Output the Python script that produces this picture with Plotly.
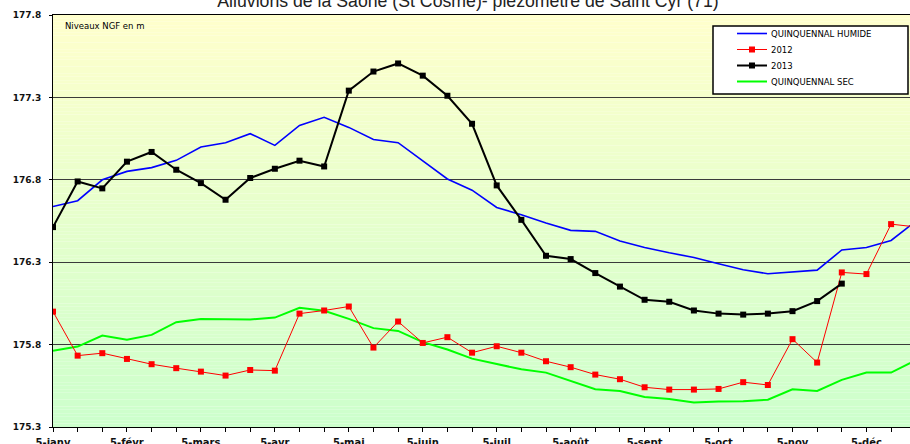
import plotly.graph_objects as go

# ---------------- data ----------------
months = ["janv", "févr", "mars", "avr", "mai", "juin", "juil", "août", "sept", "oct", "nov", "déc"]
days = [5, 15, 25]
dates = [f"{d}-{m}" for m in months for d in days]
tick_labels = [f"5-{m}" for m in months]
y_ticks = [175.3, 175.8, 176.3, 176.8, 177.3, 177.8]

humide = [176.638, 176.673, 176.800, 176.851, 176.874, 176.918, 176.999, 177.025, 177.080, 177.009,
          177.130, 177.179, 177.118, 177.044, 177.025, 176.915, 176.805, 176.737, 176.632, 176.588,
          176.538, 176.493, 176.487, 176.428, 176.389, 176.357, 176.329, 176.290, 176.254, 176.230,
          176.240, 176.252, 176.374, 176.389, 176.432, 176.549]
y2012 = [176.000, 175.733, 175.748, 175.713, 175.681, 175.657, 175.636, 175.612, 175.646, 175.642,
         175.988, 176.007, 176.031, 175.782, 175.940, 175.810, 175.845, 175.751, 175.790, 175.751,
         175.699, 175.663, 175.618, 175.590, 175.541, 175.527, 175.527, 175.531, 175.572, 175.555,
         175.833, 175.691, 176.238, 176.228, 176.531, 176.514]
y2013 = [176.513, 176.790, 176.748, 176.910, 176.969, 176.861, 176.780, 176.679, 176.811, 176.867,
         176.916, 176.881, 177.341, 177.457, 177.506, 177.432, 177.310, 177.140, 176.766, 176.557,
         176.339, 176.319, 176.234, 176.152, 176.072, 176.060, 176.007, 175.988, 175.982, 175.988,
         176.003, 176.064, 176.170]
sec = [175.762, 175.788, 175.855, 175.829, 175.859, 175.936, 175.956, 175.952, 175.952, 175.964,
       176.023, 176.005, 175.956, 175.900, 175.883, 175.815, 175.770, 175.715, 175.683, 175.650,
       175.630, 175.579, 175.529, 175.519, 175.482, 175.470, 175.448, 175.454, 175.456, 175.466,
       175.529, 175.519, 175.586, 175.630, 175.630, 175.705]

series_names = ["QUINQUENNAL HUMIDE", "2012", "2013", "QUINQUENNAL SEC"]
series_colors = ["#0000FF", "#FF0000", "#000000", "#00FF00"]

title_text = "Alluvions de la Saône (St Cosme)- piézomètre de Saint Cyr (71)"
unit_text = "Niveaux NGF en m"

# ---------------- layout geometry ----------------
W, H = 910, 444
ML, MR, MT, MB = 53, 0, 15, 17
PW, PH = W - ML - MR, H - MT - MB


def px(x):
    return (x - ML) / PW


def py(y):
    return (H - MB - y) / PH


fig = go.Figure()

fig.add_trace(go.Scatter(x=dates, y=humide, mode="lines", name=series_names[0],
                         line=dict(color=series_colors[0], width=1.6)))
fig.add_trace(go.Scatter(x=dates, y=sec, mode="lines", name=series_names[3],
                         line=dict(color=series_colors[3], width=2)))
fig.add_trace(go.Scatter(x=dates, y=y2012, mode="lines+markers", name=series_names[1],
                         line=dict(color=series_colors[1], width=1),
                         marker=dict(symbol="square", size=6, color=series_colors[1])))
fig.add_trace(go.Scatter(x=dates[:len(y2013)], y=y2013, mode="lines+markers", name=series_names[2],
                         line=dict(color=series_colors[2], width=2),
                         marker=dict(symbol="square", size=6, color=series_colors[2])))

shapes = []
# gradient background (yellow top -> green bottom)
n = 120
for i in range(n):
    t = (i + 0.5) / n
    r = int(round(204 + 51 * t))
    shapes.append(dict(type="rect", xref="x domain", yref="y domain",
                       x0=0, x1=1, y0=i / n, y1=(i + 1) / n,
                       fillcolor=f"rgb({r},255,204)", line=dict(width=0), layer="below"))

# legend box
shapes.append(dict(type="rect", xref="paper", yref="paper",
                   x0=px(713), x1=px(908), y0=py(94), y1=py(26),
                   fillcolor="white", line=dict(color="black", width=1.5), layer="above"))

annotations = []
legend_order = [0, 1, 2, 3]
legend_y = [33.5, 49.5, 65.5, 81.5]
for k, idx in enumerate(legend_order):
    yy = legend_y[k]
    col = series_colors[idx]
    lw = 1 if idx == 1 else (2 if idx in (2, 3) else 1.6)
    shapes.append(dict(type="line", xref="paper", yref="paper",
                       x0=px(737), x1=px(767), y0=py(yy), y1=py(yy),
                       line=dict(color=col, width=lw), layer="above"))
    if idx in (1, 2):
        shapes.append(dict(type="rect", xref="paper", yref="paper",
                           x0=px(749), x1=px(755), y0=py(yy + 3), y1=py(yy - 3),
                           fillcolor=col, line=dict(width=0), layer="above"))
    annotations.append(dict(text=series_names[idx], xref="paper", yref="paper",
                            x=px(769), y=py(yy), xanchor="left", yanchor="middle",
                            showarrow=False,
                            font=dict(family="DejaVu Sans", size=8.5, color="black")))

annotations.append(dict(text=unit_text, xref="paper", yref="paper",
                        x=px(63), y=py(26), xanchor="left", yanchor="middle",
                        showarrow=False,
                        font=dict(family="DejaVu Sans", size=8.5, color="black")))

fig.update_layout(
    width=W, height=H,
    margin=dict(l=ML, r=MR, t=MT, b=MB, pad=0, autoexpand=False),
    paper_bgcolor="white",
    plot_bgcolor="rgba(0,0,0,0)",
    showlegend=False,
    title=dict(text=title_text, xref="container", yref="container",
               x=468 / W, xanchor="center", y=1 - 1.0 / H, yanchor="middle",
               font=dict(family="Liberation Sans, Arial", size=17.7, color="#222222")),
    shapes=shapes,
    annotations=annotations,
    xaxis=dict(type="category", range=[0, (W - ML - MR) / 24.65], automargin=False,
               tickmode="array", tickvals=dates,
               ticktext=[d if d in tick_labels else "" for d in dates],
               ticks="outside", ticklen=4, tickcolor="black", tickwidth=1,
               showline=True, linecolor="black", linewidth=1, mirror=True,
               showgrid=False, zeroline=False,
               tickfont=dict(family="DejaVu Sans", size=10, color="#111111", weight="bold"),
               tickangle=0, ticklabelstandoff=2),
    yaxis=dict(range=[175.3, 177.8], tickmode="array", tickvals=y_ticks, automargin=False,
               ticktext=[f"{v:.1f}" for v in y_ticks],
               ticks="outside", ticklen=3, tickcolor="black",
               showline=True, linecolor="black", linewidth=1,
               showgrid=True, gridcolor="#3a3a3a", gridwidth=1, zeroline=False,
               tickfont=dict(family="DejaVu Sans", size=9, color="#111111", weight="bold"),
               ticklabelstandoff=6),
)

fig.write_html("out.html", config={"displayModeBar": False},
               post_script="document.body.style.margin='0px';")
